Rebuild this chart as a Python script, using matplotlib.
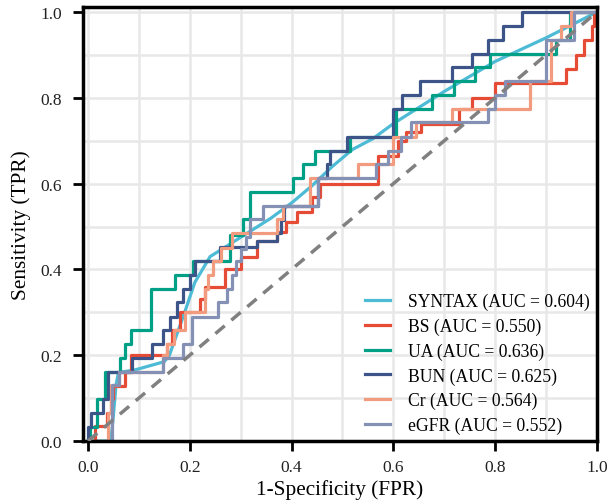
import numpy as np
import matplotlib.pyplot as plt
from matplotlib.ticker import MultipleLocator

plt.rcParams['font.family'] = ['Liberation Serif', 'DejaVu Serif']

# SYNTAX score: many thresholds, read as a polyline
syntax_fpr = [0, 0.045, 0.05, 0.055, 0.06, 0.09, 0.15, 0.16, 0.175, 0.19, 0.21, 0.24,
              0.28, 0.32, 0.36, 0.40, 0.44, 0.48, 0.52, 0.56, 0.60, 0.70, 0.80, 0.90, 1.0]
syntax_tpr = [0, 0, 0.06, 0.13, 0.16, 0.165, 0.185, 0.2, 0.25, 0.30, 0.37, 0.43,
              0.46, 0.49, 0.52, 0.555, 0.595, 0.64, 0.68, 0.705, 0.74, 0.815, 0.885, 0.94, 1.0]

# step curves: at fpr x[i] the tpr jumps up to y[i]
bs_x = [0.014, 0.037, 0.045, 0.05, 0.072, 0.085, 0.155, 0.165, 0.18, 0.22, 0.23, 0.27,
        0.30, 0.332, 0.371, 0.39, 0.41, 0.44, 0.456, 0.57, 0.61, 0.625, 0.655, 0.73,
        0.755, 0.80, 0.94, 0.96, 0.975, 0.99, 0.995]
bs_y = [0.035, 0.065, 0.097, 0.129, 0.161, 0.2, 0.226, 0.258, 0.30, 0.33, 0.36, 0.40,
        0.43, 0.466, 0.487, 0.51, 0.534, 0.57, 0.6, 0.665, 0.70, 0.72, 0.74, 0.774,
        0.80, 0.835, 0.867, 0.9, 0.935, 0.968, 1.0]

ua_x = [0.004, 0.018, 0.033, 0.063, 0.072, 0.085, 0.123, 0.171, 0.206, 0.279, 0.305,
        0.318, 0.403, 0.422, 0.446, 0.515, 0.605, 0.676, 0.72, 0.76, 0.79, 0.92, 0.947]
ua_y = [0.032, 0.097, 0.161, 0.194, 0.226, 0.258, 0.355, 0.387, 0.419, 0.48, 0.517,
        0.58, 0.613, 0.645, 0.677, 0.71, 0.774, 0.806, 0.839, 0.871, 0.903, 0.935, 1.0]

bun_x = [0.0, 0.005, 0.03, 0.04, 0.086, 0.125, 0.148, 0.161, 0.174, 0.187, 0.2, 0.21,
         0.26, 0.332, 0.372, 0.38, 0.385, 0.453, 0.47, 0.475, 0.51, 0.6, 0.617, 0.652,
         0.715, 0.755, 0.786, 0.816, 0.852]
bun_y = [0.032, 0.065, 0.097, 0.161, 0.194, 0.226, 0.258, 0.29, 0.323, 0.355, 0.387,
         0.419, 0.452, 0.466, 0.484, 0.516, 0.548, 0.613, 0.645, 0.677, 0.71, 0.774,
         0.806, 0.839, 0.871, 0.903, 0.935, 0.968, 1.0]

cr_x = [0.04, 0.045, 0.06, 0.148, 0.155, 0.17, 0.19, 0.23, 0.235, 0.245, 0.262, 0.283,
        0.372, 0.383, 0.436, 0.53, 0.6, 0.645, 0.715, 0.868, 0.91, 0.93, 0.95]
cr_y = [0.065, 0.13, 0.161, 0.2, 0.226, 0.258, 0.3, 0.355, 0.387, 0.42, 0.45, 0.484,
        0.517, 0.548, 0.613, 0.645, 0.71, 0.743, 0.774, 0.839, 0.935, 0.968, 1.0]

egfr_x = [0.047, 0.06, 0.148, 0.187, 0.204, 0.256, 0.273, 0.283, 0.29, 0.3, 0.31, 0.318,
          0.344, 0.452, 0.567, 0.59, 0.615, 0.635, 0.786, 0.8, 0.82, 0.9, 0.955]
egfr_y = [0.13, 0.161, 0.194, 0.226, 0.29, 0.323, 0.355, 0.387, 0.42, 0.447, 0.475,
          0.517, 0.548, 0.613, 0.645, 0.677, 0.71, 0.743, 0.774, 0.806, 0.839, 0.935, 1.0]

labels = ['SYNTAX (AUC = 0.604)', 'BS (AUC = 0.550)', 'UA (AUC = 0.636)',
          'BUN (AUC = 0.625)', 'Cr (AUC = 0.564)', 'eGFR (AUC = 0.552)']
colors = ['#4DBBD5', '#E64B35', '#00A087', '#3C5488', '#F39B7F', '#8491B4']


def staircase(xs, ys):
    # corner points of a ROC step curve starting at (0, 0), ending at (1, 1)
    fx, fy = [0.0], [0.0]
    for x, y in zip(xs, ys):
        fx += [x, x]
        fy += [fy[-1], y]
    fx.append(1.0)
    fy.append(fy[-1])
    return fx, fy


fig = plt.figure(figsize=(6.14, 5.02), dpi=100)
ax = fig.add_axes([0.135, 0.1195, 0.837, 0.8645])

ax.plot(syntax_fpr, syntax_tpr, color=colors[0], lw=2.3, label=labels[0])
curves = [(bs_x, bs_y), (ua_x, ua_y), (bun_x, bun_y), (cr_x, cr_y), (egfr_x, egfr_y)]
for (xs, ys), lab, c in zip(curves, labels[1:], colors[1:]):
    fx, fy = staircase(xs, ys)
    ax.plot(fx, fy, color=c, lw=2.3, label=lab)

ax.plot([0, 1], [0, 1], color='#808080', lw=2.5, ls=(0, (3.5, 2.5)), zorder=5)

ax.set_xlim(-0.01, 1.0)
ax.set_ylim(0, 1.012)
ax.xaxis.set_major_locator(MultipleLocator(0.2))
ax.yaxis.set_major_locator(MultipleLocator(0.2))
ax.xaxis.set_minor_locator(MultipleLocator(0.1))
ax.yaxis.set_minor_locator(MultipleLocator(0.1))
ax.grid(which='both', color='#e8e8e8', lw=1.8)
ax.set_axisbelow(True)
for s in ax.spines.values():
    s.set_linewidth(2.5)
    s.set_color('black')
ax.tick_params(which='major', direction='out', length=7, width=2, labelsize=12.5,
               colors='black', labelcolor='#222222', pad=6)
ax.tick_params(axis='y', which='major', pad=8)
ax.tick_params(which='minor', length=0)

ax.set_xlabel('1-Specificity (FPR)', fontsize=15.3, labelpad=3)
ax.set_ylabel('Sensitivity (TPR)', fontsize=15.3, labelpad=7)

ax.legend(loc='lower right', bbox_to_anchor=(1.0, 0.0), frameon=False, fontsize=12.7,
          handlelength=1.45, handletextpad=1.0, labelspacing=0.42, borderaxespad=0.0)

fig.savefig('out.png', dpi=100)
